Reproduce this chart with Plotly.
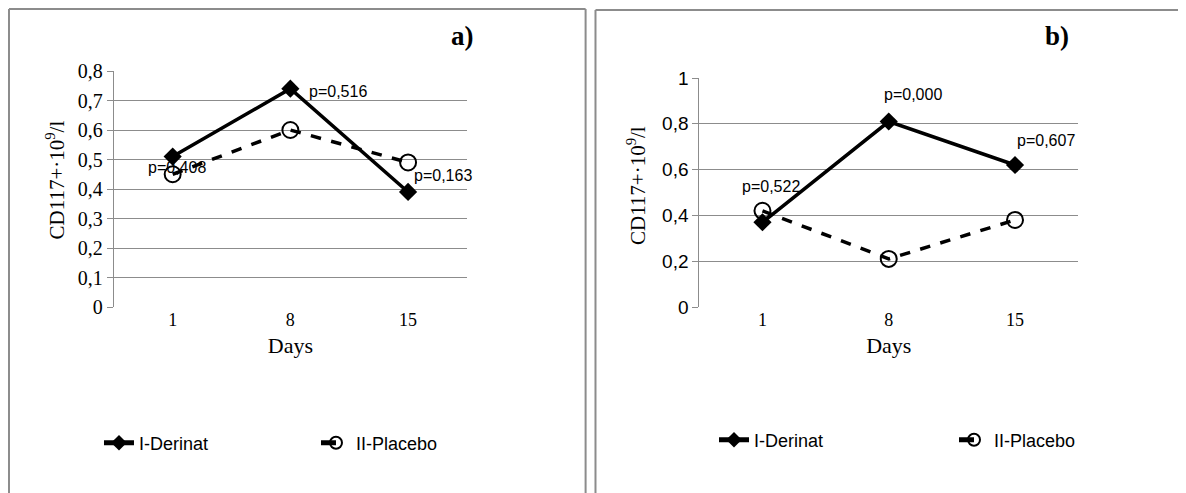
import plotly.graph_objects as go

# The page body has an 8px margin; positions below are given in window pixels and shifted.
OFF = 8
W, H = 1186, 493

days = ["1", "8", "15"]
derinat_a = [0.51, 0.74, 0.39]
placebo_a = [0.45, 0.60, 0.49]
derinat_b = [0.37, 0.81, 0.62]
placebo_b = [0.42, 0.21, 0.38]
pvals_a = ["p=0,408", "p=0,516", "p=0,163"]
pvals_b = ["p=0,522", "p=0,000", "p=0,607"]
yticks_a = [0, 0.1, 0.2, 0.3, 0.4, 0.5, 0.6, 0.7, 0.8]
yticks_b = [0, 0.2, 0.4, 0.6, 0.8, 1.0]

SERIF = "Liberation Serif, Times New Roman, serif"
SANS = "Liberation Sans, Arial, sans-serif"
NARROW = "Liberation Sans Narrow, Arial Narrow, Liberation Sans, sans-serif"
GRID = "#8c8c8c"

def px(x):
    return (x - OFF) / W

def py(y):
    return 1 - (y - OFF) / H

def fmt(v):
    return ("%g" % v).replace(".", ",")

fig = go.Figure()

def add_series(xa, ya, der, pla, leg):
    fig.add_trace(go.Scatter(
        x=days, y=der, name="I-Derinat", xaxis=xa, yaxis=ya, legend=leg,
        mode="lines+markers",
        line=dict(color="black", width=3.5),
        marker=dict(symbol="diamond", size=14, color="black"),
    ))
    fig.add_trace(go.Scatter(
        x=days, y=pla, name="II-Placebo", xaxis=xa, yaxis=ya, legend=leg,
        mode="lines+markers",
        line=dict(color="black", width=3.5, dash="dash"),
        marker=dict(symbol="circle-open", size=16, color="black", line=dict(width=2)),
    ))

add_series("x", "y", derinat_a, placebo_a, "legend")
add_series("x2", "y2", derinat_b, placebo_b, "legend2")

xaxis_common = dict(
    type="category", range=[-0.5, 2.5], showgrid=False, zeroline=False, automargin=False,
    showline=False, ticks="", tickfont=dict(family=SERIF, size=18, color="black"),
    title=dict(text="Days", font=dict(family=SERIF, size=22, color="black"), standoff=8),
)
yaxis_common = dict(
    showgrid=True, gridcolor=GRID, gridwidth=1, zeroline=False, automargin=False,
    showline=True, linecolor=GRID, linewidth=1, ticks="outside", ticklen=6,
    tickcolor=GRID, mirror=False,
)

fig.update_layout(
    width=W, height=H, autosize=False,
    margin=dict(l=0, r=0, t=0, b=0, pad=0),
    paper_bgcolor="white", plot_bgcolor="white",
    xaxis=dict(domain=[px(115), px(472)], anchor="y", **xaxis_common),
    yaxis=dict(domain=[py(307), py(71)], anchor="x", range=[0, 0.8],
               tickvals=yticks_a, ticktext=[fmt(v) for v in yticks_a],
               tickfont=dict(family=SERIF, size=20, color="black"), **yaxis_common),
    xaxis2=dict(domain=[px(707), px(1090)], anchor="y2", **xaxis_common),
    yaxis2=dict(domain=[py(307), py(78)], anchor="x2", range=[0, 1],
                tickvals=yticks_b, ticktext=[fmt(v) for v in yticks_b],
                tickfont=dict(family=SANS, size=19, color="black"), **yaxis_common),
    legend=dict(orientation="h", x=px(100), y=py(443), xanchor="left", yanchor="middle",
                font=dict(family=SANS, size=18, color="black"), entrywidth=172,
                itemsizing="constant", bgcolor="rgba(0,0,0,0)"),
    legend2=dict(orientation="h", x=px(722), y=py(440), xanchor="left", yanchor="middle",
                 font=dict(family=SANS, size=18, color="black"), entrywidth=195,
                 itemsizing="constant", bgcolor="rgba(0,0,0,0)"),
)

border = dict(color="#8c8c8c", width=2)
e = 1 / W
f = 1 / H
fig.add_shape(type="line", xref="paper", yref="paper", x0=e, x1=e, y0=0, y1=1 - f, line=border)
fig.add_shape(type="line", xref="paper", yref="paper", x0=e, x1=px(592), y0=1 - f, y1=1 - f, line=border)
fig.add_shape(type="line", xref="paper", yref="paper", x0=px(592), x1=px(592), y0=0, y1=1 - f, line=border)
fig.add_shape(type="line", xref="paper", yref="paper", x0=px(602), x1=px(602), y0=0, y1=py(10), line=border)
fig.add_shape(type="line", xref="paper", yref="paper", x0=px(602), x1=1, y0=py(10), y1=py(10), line=border)

C = dict(xanchor="center", yanchor="middle", showarrow=False)
ann = []
ann.append(dict(text="<b>a)</b>", xref="paper", yref="paper", x=px(468), y=py(36),
                font=dict(family=SERIF, size=27, color="black"), **C))
ann.append(dict(text="<b>b)</b>", xref="paper", yref="paper", x=px(1069), y=py(36),
                font=dict(family=SERIF, size=27, color="black"), **C))
ytitle = "CD117+·10<sup>9</sup>/l"
ann.append(dict(text=ytitle, xref="paper", yref="paper", x=px(57), y=py(180), textangle=-90,
                font=dict(family=SERIF, size=21, color="black"), **C))
ann.append(dict(text=ytitle, xref="paper", yref="paper", x=px(643), y=py(186), textangle=-90,
                font=dict(family=SERIF, size=21, color="black"), **C))

pfont = dict(family=NARROW, size=16, color="black")
ann.append(dict(text=pvals_a[0], xref="x", yref="y", x=0, y=placebo_a[0], xshift=4, yshift=7,
                showarrow=False, font=pfont))
ann.append(dict(text=pvals_a[1], xref="x", yref="y", x=1, y=derinat_a[1], xanchor="left",
                xshift=17, yshift=-3, showarrow=False, font=pfont))
ann.append(dict(text=pvals_a[2], xref="x", yref="y", x=2, y=derinat_a[2], xanchor="left",
                xshift=4, yshift=16, showarrow=False, font=pfont))
ann.append(dict(text=pvals_b[0], xref="x2", yref="y2", x=0, y=placebo_b[0], xshift=9, yshift=24,
                showarrow=False, font=pfont))
ann.append(dict(text=pvals_b[1], xref="x2", yref="y2", x=1, y=derinat_b[1], xshift=24, yshift=27,
                showarrow=False, font=pfont))
ann.append(dict(text=pvals_b[2], xref="x2", yref="y2", x=2, y=derinat_b[2], xshift=31, yshift=25,
                showarrow=False, font=pfont))
fig.update_layout(annotations=ann)

fig.write_html("out.html")
